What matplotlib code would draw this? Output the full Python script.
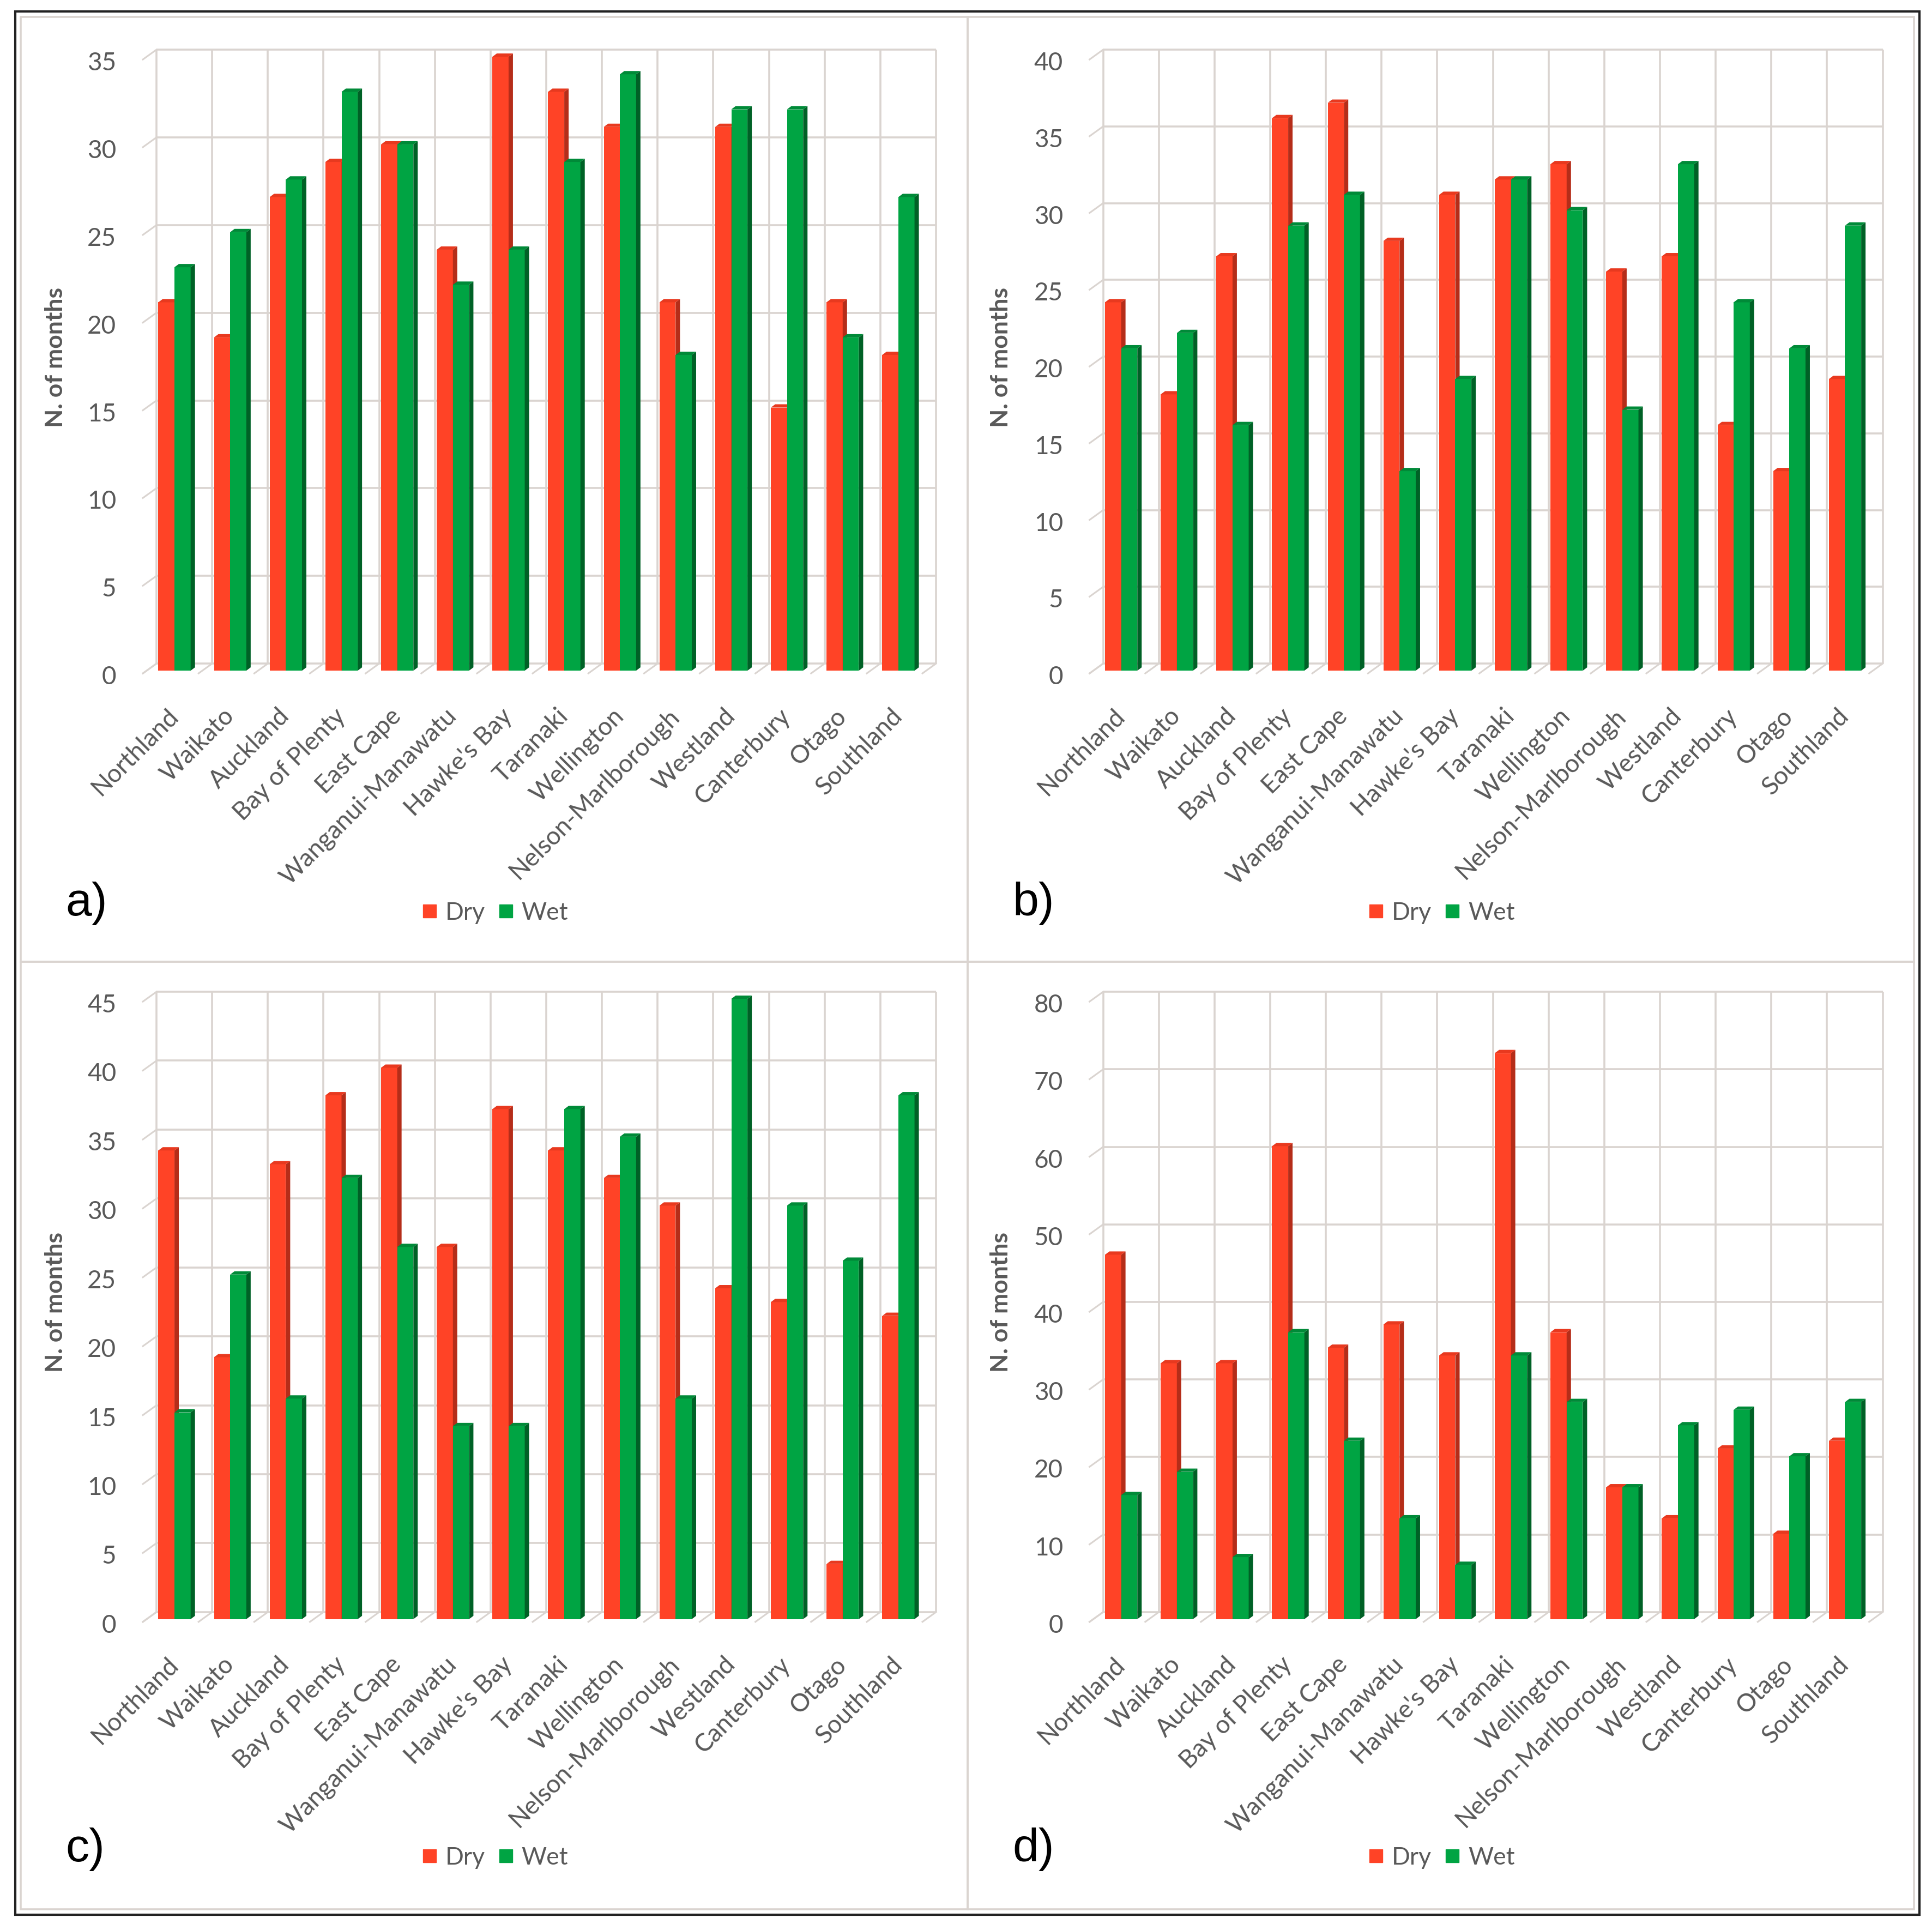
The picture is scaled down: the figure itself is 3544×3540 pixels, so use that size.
import matplotlib
matplotlib.use('Agg')
import matplotlib.pyplot as plt
from matplotlib.patches import Polygon, Rectangle
from matplotlib.lines import Line2D
from matplotlib.transforms import ScaledTranslation
import numpy as np

# ---------------- data ----------------
regions = ["Northland", "Waikato", "Auckland", "Bay of Plenty", "East Cape",
           "Wanganui-Manawatu", "Hawke's Bay", "Taranaki", "Wellington",
           "Nelson-Marlborough", "Westland", "Canterbury", "Otago", "Southland"]

dry_a = [21, 19, 27, 29, 30, 24, 35, 33, 31, 21, 31, 15, 21, 18]
wet_a = [23, 25, 28, 33, 30, 22, 24, 29, 34, 18, 32, 32, 19, 27]

dry_b = [24, 18, 27, 36, 37, 28, 31, 32, 33, 26, 27, 16, 13, 19]
wet_b = [21, 22, 16, 29, 31, 13, 19, 32, 30, 17, 33, 24, 21, 29]

dry_c = [34, 19, 33, 38, 40, 27, 37, 34, 32, 30, 24, 23, 4, 22]
wet_c = [15, 25, 16, 32, 27, 14, 14, 37, 35, 16, 45, 30, 26, 38]

dry_d = [47, 33, 33, 61, 35, 38, 34, 73, 37, 17, 13, 22, 11, 23]
wet_d = [16, 19, 8, 37, 23, 13, 7, 34, 28, 17, 25, 27, 21, 28]

series_labels = ["Dry", "Wet"]
panel_labels = ["a)", "b)", "c)", "d)"]
y_max = [35, 40, 45, 80]
y_step = [5, 5, 5, 10]
y_title = "N. of months"

# ---------------- style ----------------
W, H, DPI = 3544, 3541, 100
RED, RED_SIDE, RED_TOP = '#FF4326', '#B52D19', '#E8391F'
GREEN, GREEN_SIDE, GREEN_TOP = '#00A443', '#006126', '#008A38'
GRID = '#DAD4D0'
TXT = '#595959'

plt.rcParams['font.family'] = ['Lato', 'DejaVu Sans']

fig = plt.figure(figsize=(W / DPI, H / DPI), dpi=DPI, facecolor='white')

# frame: outer black border and light grey panel borders
fig.add_artist(Rectangle((0.0079, 0.0079), 0.99351 - 0.0079, 0.99379 - 0.0079,
                         transform=fig.transFigure, fill=False, ec='#222222', lw=3.0))
fig.add_artist(Rectangle((0.0107, 0.0107), 0.9907 - 0.0107, 0.9910 - 0.0107,
                         transform=fig.transFigure, fill=False, ec=GRID, lw=2.6))
fig.add_artist(Line2D([0.50085, 0.50085], [0.0107, 0.9910], transform=fig.transFigure,
                      color=GRID, lw=2.8))
fig.add_artist(Line2D([0.0107, 0.9907], [0.50155, 0.50155], transform=fig.transFigure,
                      color=GRID, lw=2.8))

DX, DY = 25, 18          # floor depth (pixels)
BX, BY = -15, -13        # bar plane shift (pixels)
SDX, SDY = 8, 6          # bar depth (pixels)
BW = 0.29
B0 = 0.18


def draw_panel(pos, dry, wet, ymax, step, plabel, plabel_xy, leg_xy, ylab_x):
    ax = fig.add_axes(pos)
    n = len(regions)
    ax.set_xlim(0, n)
    ax.set_ylim(0, ymax)
    ax.set_facecolor('none')
    for s in ax.spines.values():
        s.set_visible(False)
    sx = n / (pos[2] * W)
    sy = ymax / (pos[3] * H)

    yt = np.arange(0, ymax + step / 2, step)
    # back wall grid + side-wall tick diagonals
    for y in yt:
        ax.plot([0, n], [y, y], color=GRID, lw=2.6, zorder=1, clip_on=False,
                solid_capstyle='butt')
        ax.plot([0, -DX * sx], [y, y - DY * sy], color=GRID, lw=2.2, zorder=1,
                clip_on=False)
    for i in range(n + 1):
        ax.plot([i, i], [0, ymax], color=GRID, lw=2.6, zorder=1, clip_on=False,
                solid_capstyle='butt')
        ax.plot([i, i - DX * sx], [0, -DY * sy], color=GRID, lw=2.2, zorder=1,
                clip_on=False)

    idx = np.arange(n)
    x_red = idx + B0 + BX * sx
    x_green = x_red + BW
    series = [(dry, x_red, RED, RED_SIDE, RED_TOP, 3),
              (wet, x_green, GREEN, GREEN_SIDE, GREEN_TOP, 4)]
    for vals, xs, cf, cs, ct, z in series:
        bars = ax.bar(xs, vals, width=BW, bottom=BY * sy, align='edge', color=cf,
                      lw=0, zorder=z, clip_on=False)
        for r in bars:
            xl, yb = r.get_x(), r.get_y()
            xr, yt_ = xl + r.get_width(), yb + r.get_height()
            ddx, ddy = SDX * sx, SDY * sy
            side = Polygon([(xr, yb), (xr, yt_), (xr + ddx, yt_ + ddy), (xr + ddx, yb + ddy)],
                           closed=True, fc=cs, lw=0, zorder=z + 0.1, clip_on=False)
            top = Polygon([(xl, yt_), (xr, yt_), (xr + ddx, yt_ + ddy), (xl + ddx, yt_ + ddy)],
                          closed=True, fc=ct, lw=0, zorder=z + 0.2, clip_on=False)
            ax.add_patch(side)
            ax.add_patch(top)

    # y ticks
    ax.set_yticks(yt)
    ax.set_yticklabels([f"{int(v)}" for v in yt])
    ax.tick_params(axis='y', length=0, pad=53, labelsize=33, labelcolor=TXT)
    off_y = ScaledTranslation(0, -20 / DPI, fig.dpi_scale_trans)
    for lab in ax.get_yticklabels():
        lab.set_transform(lab.get_transform() + off_y)

    # x ticks (category names)
    ax.set_xticks(idx + B0 + BW + BX * sx)
    ax.set_xticklabels(regions, rotation=45, ha='right', va='center',
                       rotation_mode='anchor')
    ax.tick_params(axis='x', length=0, pad=64, labelsize=33, labelcolor=TXT)

    # y axis title
    fig.text(ylab_x, pos[1] + pos[3] / 2, y_title, rotation=90, ha='center', va='center',
             fontsize=32, fontweight='bold', color=TXT)

    # panel letter
    fig.text(plabel_xy[0], plabel_xy[1], plabel, ha='left', va='center', fontsize=62,
             family=['Liberation Sans', 'DejaVu Sans'], color='black')

    # legend
    handles = [Line2D([0], [0], marker='s', ls='', color=RED, markersize=17),
               Line2D([0], [0], marker='s', ls='', color=GREEN, markersize=17)]
    fig.legend(handles, series_labels, loc='center', bbox_to_anchor=leg_xy, ncol=2,
               frameon=False, fontsize=32, handletextpad=0.3, columnspacing=0.5,
               handlelength=0.7, labelcolor=TXT, borderpad=0, borderaxespad=0)
    return ax


draw_panel([0.081, 0.656, 0.4035, 0.318], dry_a, wet_a, y_max[0], y_step[0],
           panel_labels[0], (0.034, 0.532), (0.256, 0.527), 0.0288)
draw_panel([0.571, 0.656, 0.4035, 0.318], dry_b, wet_b, y_max[1], y_step[1],
           panel_labels[1], (0.524, 0.532), (0.746, 0.527), 0.518)
draw_panel([0.081, 0.1647, 0.4035, 0.3213], dry_c, wet_c, y_max[2], y_step[2],
           panel_labels[2], (0.034, 0.042), (0.256, 0.0376), 0.0288)
draw_panel([0.571, 0.1647, 0.4035, 0.3213], dry_d, wet_d, y_max[3], y_step[3],
           panel_labels[3], (0.524, 0.042), (0.746, 0.0376), 0.518)

fig.savefig('out.png', dpi=DPI, facecolor='white')
